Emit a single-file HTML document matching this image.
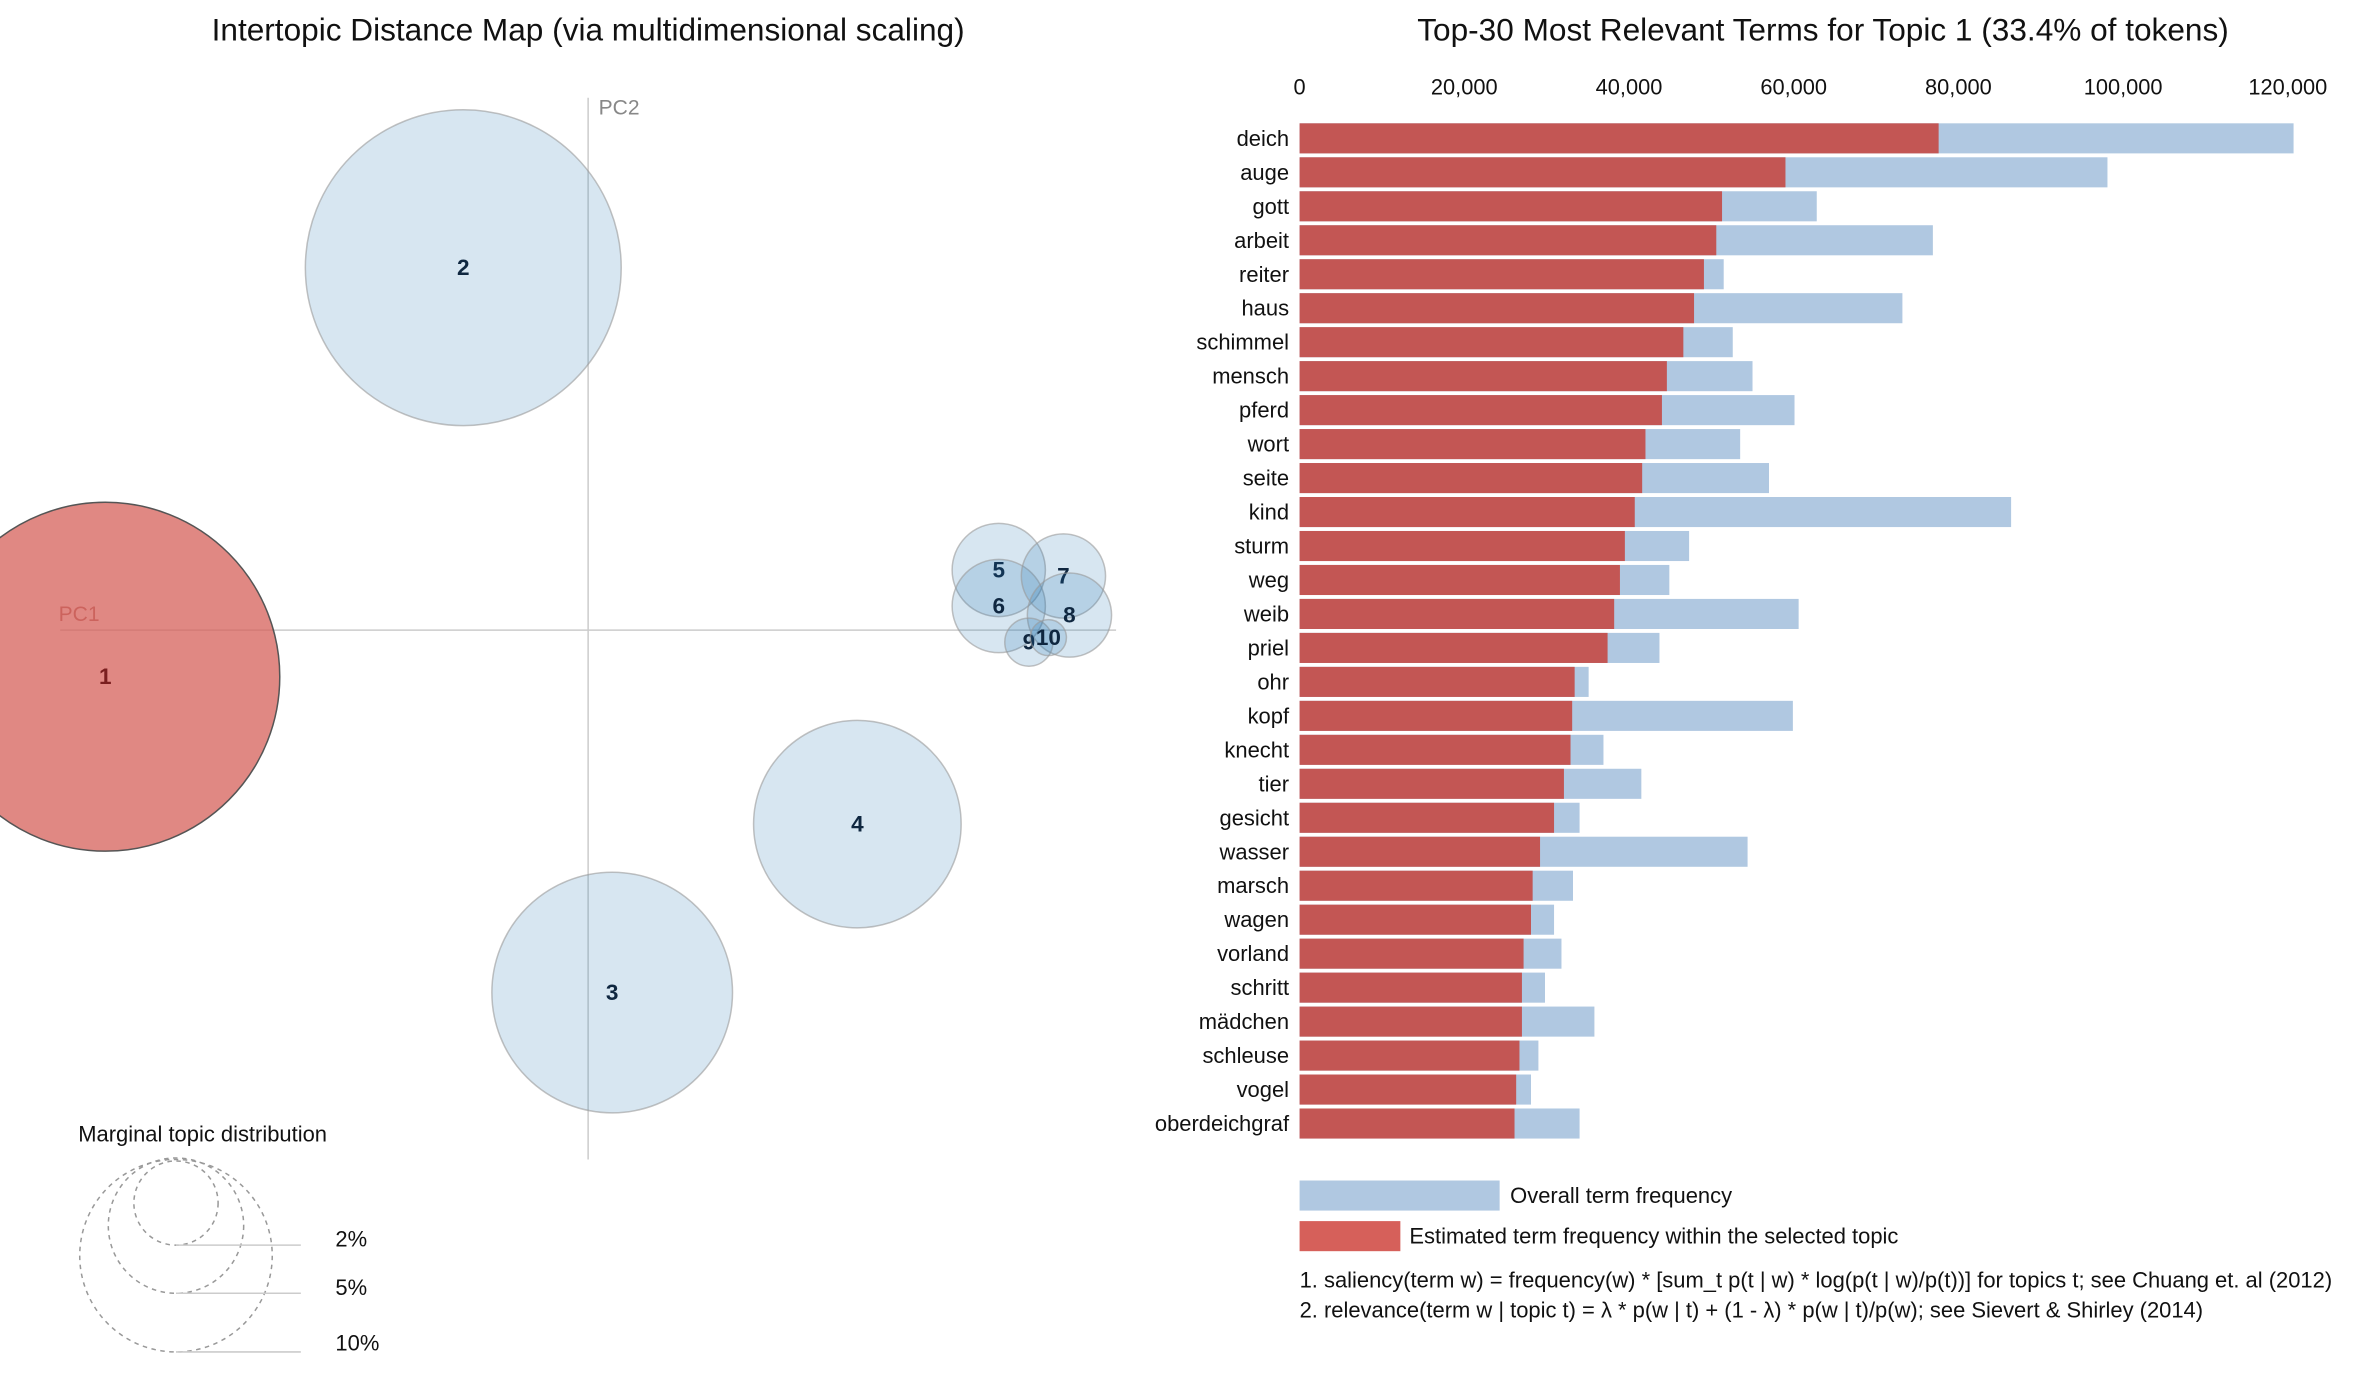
<!DOCTYPE html>
<html><head><meta charset="utf-8"><style>
html,body{margin:0;padding:0;background:#fff;}
svg{display:block;font-family:"Liberation Sans",Arial,sans-serif;}
</style></head><body>
<svg id="root" width="2357" height="1376" viewBox="0 0 1567 915" preserveAspectRatio="none" xmlns="http://www.w3.org/2000/svg">
<g id="left">
<text x="391" y="27" text-anchor="middle" font-size="21" fill="#111">Intertopic Distance Map (via multidimensional scaling)</text>
<line x1="391" y1="65" x2="391" y2="771" stroke="#ccc" stroke-width="1"/>
<line x1="40" y1="419" x2="742" y2="419" stroke="#ccc" stroke-width="1"/>
<text x="398" y="76" font-size="14" fill="#888">PC2</text>
<text x="39" y="413" font-size="14" fill="#b06d6a">PC1</text>
<g id="circles"></g>
<text x="52" y="759" font-size="14.6" fill="#111">Marginal topic distribution</text>
<g fill="none" stroke="#999" stroke-dasharray="3,3">
<circle cx="117" cy="800" r="28"/><circle cx="117" cy="815" r="45"/><circle cx="117" cy="835" r="64"/>
</g>
<g stroke="#ccc"><line x1="117" y1="828" x2="200" y2="828"/><line x1="117" y1="860" x2="200" y2="860"/><line x1="117" y1="899" x2="200" y2="899"/></g>
<g font-size="14.6" fill="#111"><text x="223" y="829">2%</text><text x="223" y="861">5%</text><text x="223" y="898">10%</text></g>
</g>
<g id="right">
<text x="1212" y="27" text-anchor="middle" font-size="21" fill="#111">Top-30 Most Relevant Terms for Topic 1 (33.4% of tokens)</text>
<g id="ticks"></g><g id="bars"></g>
<rect x="864" y="785" width="133" height="20" fill="#b0c8e1"/>
<text x="1004" y="800" font-size="14.6" fill="#111">Overall term frequency</text>
<rect x="864" y="812" width="67" height="20" fill="#d6605a"/>
<text x="937" y="827" font-size="14.6" fill="#111">Estimated term frequency within the selected topic</text>
<text x="864" y="856" font-size="14.6" fill="#111">1. saliency(term w) = frequency(w) * [sum_t p(t | w) * log(p(t | w)/p(t))] for topics t; see Chuang et. al (2012)</text>
<text x="864" y="876" font-size="14.6" fill="#111">2. relevance(term w | topic t) = λ * p(w | t) + (1 - λ) * p(w | t)/p(w); see Sievert &amp; Shirley (2014)</text>
</g>
</svg>
<script>
const NS="http://www.w3.org/2000/svg";
const topicIds=[2,3,4,5,6,7,8,9,10,1];
const topicX=[308,407,570,664,664,707,711,684,697,70];
const topicY=[178,660,548,379,403,383,409,427,424,450];
const topicR=[105,80,69,31,31,28,28,16,12,116];
const terms=["deich","auge","gott","arbeit","reiter","haus","schimmel","mensch","pferd","wort","seite","kind","sturm","weg","weib","priel","ohr","kopf","knecht","tier","gesicht","wasser","marsch","wagen","vorland","schritt","mädchen","schleuse","vogel","oberdeichgraf"];
const overallFreq=[120700,98100,62800,76900,51500,73200,52600,55000,60100,53500,57000,86400,47300,44900,60600,43700,35100,59900,36900,41500,34000,54400,33200,30900,31800,29800,35800,29000,28100,34000];
const topicFreq=[77600,59000,51300,50600,49100,47900,46600,44600,44000,42000,41600,40700,39500,38900,38200,37400,33400,33100,32900,32100,30900,29200,28300,28100,27200,27000,27000,26700,26300,26100];
const tickVals=[0,20000,40000,60000,80000,100000,120000];
const tickLabels=["0","20,000","40,000","60,000","80,000","100,000","120,000"];
function mk(t,a,p){const e=document.createElementNS(NS,t);for(const k in a)e.setAttribute(k,a[k]);p.appendChild(e);return e;}
const cg=document.getElementById('circles');
topicIds.forEach((id,i)=>{
 const sel=id===1;
 const c=mk('circle',{cx:topicX[i],cy:topicY[i],r:topicR[i],fill:sel?'#d6605a':'#1f77b4','fill-opacity':sel?0.75:0.18,stroke:sel?'#555':'#999','stroke-opacity':sel?1:0.6,'stroke-width':1},cg);
 
 
 const t=mk('text',{x:topicX[i],y:topicY[i]+5,'text-anchor':'middle','font-size':15,'font-weight':'bold',fill:sel?'#7a1f1f':'#0f2740'},cg);
 t.textContent=id;
 
 
});
const x0=864,x1=1521,xmax=120000;
const xs=v=>x0+(x1-x0)*v/xmax;
const rowY=i=>92+i*22.59;
const tg=document.getElementById('ticks');
tickVals.forEach((v,i)=>{const t=mk('text',{x:xs(v),y:63,'text-anchor':'middle','font-size':14.5,fill:'#111'},tg);t.textContent=tickLabels[i];
 
 });
const bg=document.getElementById('bars');
terms.forEach((w,i)=>{
 const y=rowY(i)-10;
 const b=mk('rect',{x:x0,y:y,width:xs(overallFreq[i])-x0,height:20,fill:'#b0c8e1'},bg);
 
 
 const r=mk('rect',{x:x0,y:y,width:xs(topicFreq[i])-x0,height:20,fill:'#c35654'},bg);
 
 
 const t=mk('text',{x:857,y:rowY(i)+5,'text-anchor':'end','font-size':14.6,fill:'#111'},bg);
 t.textContent=w;
 
 
});
</script>
</body></html>
